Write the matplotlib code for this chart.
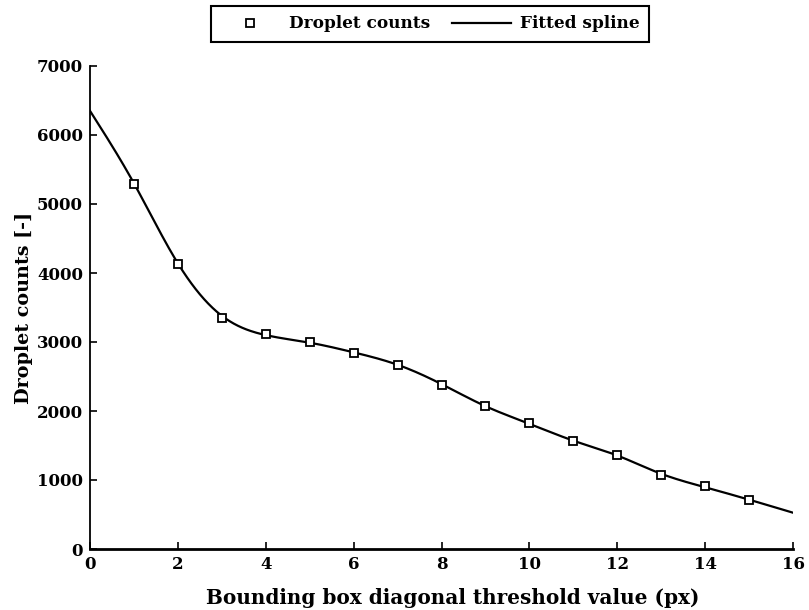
import numpy as np
import matplotlib
matplotlib.use("Agg")
import matplotlib.pyplot as plt

# droplet counts
thresholds = [1, 2, 3, 4, 5, 6, 7, 8, 9, 10, 11, 12, 13, 14, 15]
counts = [5290, 4130, 3345, 3115, 3000, 2840, 2670, 2380, 2075, 1820, 1565, 1365, 1075, 910, 710]

# knots of the fitted spline as drawn (ends extend to 0 and 16)
spline_x = [0, 1, 2, 3, 4, 5, 6, 7, 8, 9, 10, 11, 12, 13, 14, 15, 16]
spline_y = [6350, 5300, 4140, 3380, 3100, 2990, 2850, 2670, 2390, 2070, 1815, 1570, 1355, 1090, 895, 715, 526]

xticks = [0, 2, 4, 6, 8, 10, 12, 14, 16]
yticks = [0, 1000, 2000, 3000, 4000, 5000, 6000, 7000]


def natural_spline(x, y, xs):
    # plain natural cubic spline, just to draw a smooth curve through the knots
    x = np.asarray(x, float)
    y = np.asarray(y, float)
    n = len(x)
    h = np.diff(x)
    A = np.zeros((n, n))
    r = np.zeros(n)
    A[0, 0] = A[-1, -1] = 1
    for i in range(1, n - 1):
        A[i, i - 1] = h[i - 1]
        A[i, i] = 2 * (h[i - 1] + h[i])
        A[i, i + 1] = h[i]
        r[i] = 3 * ((y[i + 1] - y[i]) / h[i] - (y[i] - y[i - 1]) / h[i - 1])
    c = np.linalg.solve(A, r)
    b = (y[1:] - y[:-1]) / h - h * (2 * c[:-1] + c[1:]) / 3
    d = (c[1:] - c[:-1]) / (3 * h)
    idx = np.clip(np.searchsorted(x, xs) - 1, 0, n - 2)
    t = xs - x[idx]
    return y[idx] + b[idx] * t + c[idx] * t ** 2 + d[idx] * t ** 3


plt.rcParams["font.family"] = ["DejaVu Serif"]
plt.rcParams["font.weight"] = "bold"

fig = plt.figure(figsize=(8.09, 6.10), dpi=100)
ax = fig.add_axes([90 / 809, 1 - 549 / 610, 703 / 809, 483 / 610])

xs = np.linspace(0, 16, 500)
ax.plot(thresholds, counts, linestyle="none", marker="s", markersize=6,
        markerfacecolor="white", markeredgecolor="black", markeredgewidth=1.3,
        label="Droplet counts", zorder=3)
ax.plot(xs, natural_spline(spline_x, spline_y, xs), color="black", lw=1.6,
        label="Fitted spline", zorder=2)

ax.set_xlim(0, 16)
ax.set_ylim(0, 7000)
ax.set_xticks(xticks)
ax.set_yticks(yticks)
ax.tick_params(direction="in", length=5, width=1.2, labelsize=12, pad=5)
for s in ["top", "right"]:
    ax.spines[s].set_visible(False)
ax.spines["left"].set_linewidth(1.3)
ax.spines["bottom"].set_linewidth(2.0)

ax.set_xlabel("Bounding box diagonal threshold value (px)", fontsize=14.4, fontweight="bold")
ax.set_ylabel("Droplet counts [-]", fontsize=13.8, fontweight="bold")
ax.xaxis.set_label_coords(0.516, -0.081)
ax.yaxis.set_label_coords(-0.081, 0.5)

leg = ax.legend(loc="center", bbox_to_anchor=(430 / 809, 1 - 24 / 610),
                bbox_transform=fig.transFigure, ncol=2, fontsize=12.2,
                frameon=True, fancybox=False, framealpha=1, edgecolor="black",
                handlelength=3.5, handletextpad=0.5, columnspacing=1.3,
                markerscale=0.85, borderpad=0.55)
leg.get_frame().set_linewidth(1.5)

fig.savefig("out.png", dpi=100)
